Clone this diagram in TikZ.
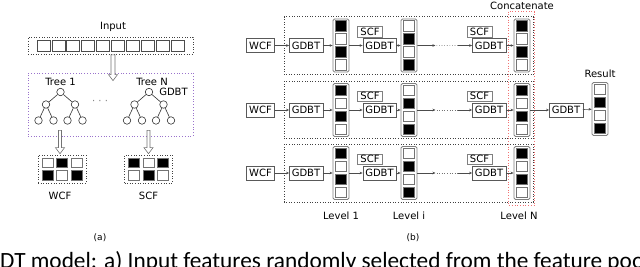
\documentclass[tikz,border=0pt]{standalone}
\usepackage{fontspec}
\setmainfont{DejaVu Sans}
\newfontfamily\capfont{Carlito}
\usepackage{tikz}
\usetikzlibrary{arrows.meta,positioning,calc}
\definecolor{purple2}{HTML}{9A72CC}
\definecolor{red2}{HTML}{F27272}

\newcommand{\featcol}[3]{% name, centre, cell colours top to bottom
  \node[colbox] (#1) at #2 {};
  \foreach \c [count=\k] in {#3}
    \node[cell, fill=\c] at ($(#1.north)+(0,{13*\k-6})$) {};
}
\newcommand{\gtree}[2]{% name, root position
  \node[knot] (#1) at #2 {};
  \node[knot] (#1a) at ($(#1)+(-14.5,12.5)$) {};
  \node[knot] (#1b) at ($(#1)+(14.5,12.5)$) {};
  \node[knot] (#1aa) at ($(#1a)+(-7.5,16)$) {};
  \node[knot] (#1ab) at ($(#1a)+(7.5,16)$) {};
  \node[knot] (#1ba) at ($(#1b)+(-7.5,16)$) {};
  \node[knot] (#1bb) at ($(#1b)+(7.5,16)$) {};
  \draw[twig] (#1) -- (#1a) (#1) -- (#1b) (#1a) -- (#1aa) (#1a) -- (#1ab)
              (#1b) -- (#1ba) (#1b) -- (#1bb);
}
\newcommand{\hollowarrow}[3]{% from, to (pointing down), half shaft width
  \draw[hollow] ($(#1)+(-#3,0)$) -- ($(#2)+(-#3,-6)$) -- ($(#2)+(-4.5,-6)$) -- (#2)
    -- ($(#2)+(4.5,-6)$) -- ($(#2)+(#3,-6)$) -- ($(#1)+(#3,0)$) -- cycle;
}

\begin{document}
\begin{tikzpicture}[x=1pt, y=-1pt,
        every node/.style={font=\fontsize{10}{12}\selectfont},
        tag/.style={draw=black!65, fill=white, inner xsep=2.5pt, inner ysep=0pt, minimum height=14pt},
        scf/.style={draw=black!50, fill=white, inner xsep=3pt, inner ysep=1pt, minimum height=10.5pt},
        colbox/.style={draw=black!50, line width=0.8pt, rounded corners=1.5pt,
                       minimum width=16pt, minimum height=53pt, inner sep=0pt},
        cell/.style={draw=black!55, minimum width=11pt, minimum height=10.5pt, inner sep=0pt},
        rowbox/.style={draw=black!75, dotted, line width=0.6pt},
        catbox/.style={draw=red2, dotted, line width=0.7pt},
        dotbox/.style={draw=black!75, dotted, line width=0.6pt, inner sep=0pt},
        forestbox/.style={draw=purple2, dotted, line width=0.8pt, inner sep=0pt},
        knot/.style={circle, draw=black!80, line width=0.6pt, minimum size=7.5pt, inner sep=0pt},
        twig/.style={black!80, line width=0.6pt},
        arr/.style={-{Stealth[length=3pt,width=2.6pt]}, line width=0.6pt, draw=black!70},
        hollow/.style={draw=black!55, fill=white, line width=0.6pt, line join=miter},
        lbl/.style={inner sep=1pt}
    ]
      \useasboundingbox (0,0) rectangle (640,267);

      % (a) input vector, forest, pooled features
      \node[dotbox, minimum width=165pt, minimum height=17pt] (inp) at (110.5,45.5) {};
      \foreach \i in {0,...,9}
        \node[cell, draw=black!70, minimum width=13pt, minimum height=11pt]
          at ($(inp.west)+({15.6+14.9*\i},0)$) {};
      \node[lbl, above=4pt of inp, xshift=2.5pt] (inlbl) {Input};
      \node[forestbox, minimum width=165pt, minimum height=63pt] (forest) at (110.5,104.5) {};
      \coordinate (h1s) at ($(inp.south)+(2.5,0.6)$);
      \coordinate (h1e) at ($(forest.north)+(2.5,8)$);
      \hollowarrow{h1s}{h1e}{2}
      \gtree{t1}{(60.5,92)}
      \gtree{tN}{(149,92)}
      \node[lbl, above=1.5pt of t1] (t1lbl) {Tree 1};
      \node[lbl, above=1.5pt of tN, xshift=3pt] (tNlbl) {Tree N};
      \node[lbl, right=5pt of tN] (tNgdbt) {GDBT};
      \node[text=black!50] (dots) at (100,102) {· · ·};

      \node[dotbox, minimum width=48pt, minimum height=28pt] (wcfA) at (62,169) {};
      \node[dotbox, minimum width=48pt, minimum height=28pt] (scfA) at (148.5,169) {};
      \foreach \c/\dx/\dy in {white/-14.5/-6.3, black/0/-6.3, white/14.5/-6.3,
                              black/-14.5/6.3, white/0/6.3, black/14.5/6.3}
        \node[cell, fill=\c, minimum height=9.5pt] at ($(wcfA)+(\dx,\dy)$) {};
      \foreach \c/\dx/\dy in {black/-14.5/-6.3, white/0/-6.3, black/14.5/-6.3,
                              white/-14.5/6.3, black/0/6.3, white/14.5/6.3}
        \node[cell, fill=\c, minimum height=9.5pt] at ($(scfA)+(\dx,\dy)$) {};
      \coordinate (h2s) at ($(wcfA.north |- forest.south)+(-2,-6)$);
      \coordinate (h2e) at ($(wcfA.north)+(-2,-1)$);
      \coordinate (h3s) at ($(scfA.north |- forest.south)+(0,-6)$);
      \coordinate (h3e) at ($(scfA.north)+(0,-1)$);
      \hollowarrow{h2s}{h2e}{1.5}
      \hollowarrow{h3s}{h3e}{1.5}
      \node[lbl, below=8pt of wcfA, xshift=-2pt] (wcflbl) {WCF};
      \node[lbl, below=8pt of scfA] (scflbl) {SCF};
      \node[font=\fontsize{9}{11}\selectfont] (pa) at (100,238) {(a)};

      % (b) cascade levels
      \foreach \r/\yc in {1/45.5, 2/110, 3/173} {
        \node[tag] (wcf\r) at (260.5,\yc) {WCF};
        \node[tag] (gA\r) at (306,\yc) {GDBT};
        \featcol{cA\r}{(341,\yc)}{black,white,black,white}
        \node[tag] (gB\r) at (379.5,\yc) {GDBT};
        \node[scf, above=1pt of gB\r, xshift=-9.5pt] (sB\r) {SCF};
        \featcol{cB\r}{(409,\yc)}{white,black,white,black}
        \node[tag] (gC\r) at (489,\yc) {GDBT};
        \node[scf, above=1pt of gC\r, xshift=-9.5pt] (sC\r) {SCF};
        \featcol{cC\r}{(522,\yc)}{black,white,black,white}
        \draw[rowbox] ($(gA\r.west)+(-5,-28.8)$) rectangle ($(cC\r.east)+(3,28.8)$);
        \draw[arr] (wcf\r) -- (gA\r);
        \draw[arr] (gA\r) -- (cA\r);
        \draw[arr] (cA\r) -- (gB\r);
        \draw[arr] (gB\r) -- (cB\r);
        \draw[arr] (cB\r) -- ($(cB\r.east)!0.33!(gC\r.west)$);
        \draw[dotted, black!55, line width=0.6pt] ($(cB\r.east)!0.35!(gC\r.west)$)
          -- ($(cB\r.east)!0.74!(gC\r.west)$);
        \draw[arr] ($(cB\r.east)!0.74!(gC\r.west)$) -- (gC\r);
        \draw[arr] (gC\r) -- (cC\r);
      }
      \draw[catbox] ($(cC1.north west)+(-5,-7)$) rectangle ($(cC3.south east)+(4,5.5)$);
      \node[lbl, above=8pt of cC1] (cat) {Concatenate};

      \node[tag] (gR) at (566,110) {GDBT};
      \featcol{res}{(600,109)}{white,black,white,black}
      \node[lbl, above=3pt of res] (reslbl) {Result};
      \draw[arr] (cC2) -- (gR);
      \draw[arr] (gR) -- (res);

      \node[lbl, below=10.5pt of cA3] (lv1) {Level 1};
      \node[lbl, below=10.5pt of cB3] (lvi) {Level i};
      \node[lbl, below=10.5pt of cC3, xshift=-3pt] (lvN) {Level N};
      \node[font=\fontsize{9}{11}\selectfont] (pb) at (413,238) {(b)};

      \node[anchor=base west, inner sep=0pt, font=\capfont\fontsize{23.3}{27}\selectfont] (cap)
        at (0,268) {DT model: a) Input features randomly selected from the feature pool};
\end{tikzpicture}
\end{document}
